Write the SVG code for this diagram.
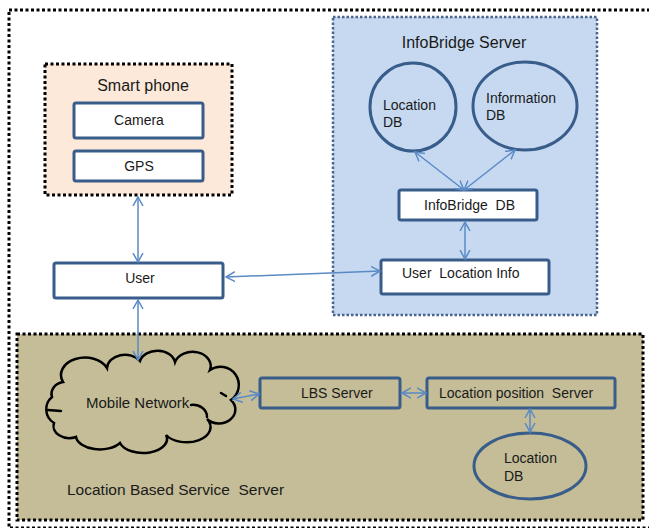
<svg xmlns="http://www.w3.org/2000/svg" width="649" height="528" viewBox="0 0 649 528" xml:space="preserve">
<style>
.dot{fill:none;stroke:#000;stroke-width:3;stroke-dasharray:3 2.5}
.box{fill:#fff;stroke:#385D8A;stroke-width:3}
.ell{fill:none;stroke:#385D8A;stroke-width:3}
.t{font-family:"Liberation Sans",Arial,sans-serif;font-size:14px;fill:#1a1a1a;white-space:pre}
.ttl{font-family:"Liberation Sans",Arial,sans-serif;font-size:16px;fill:#1a1a1a;white-space:pre}
.c line{stroke:#5A8AC6;stroke-width:1.5;fill:none;marker-start:url(#ah);marker-end:url(#ah)}
.cl{fill:none;stroke:#000;stroke-width:2.5;stroke-linecap:round}
</style>
<defs>
<marker id="ah" markerUnits="userSpaceOnUse" markerWidth="12" markerHeight="12" refX="9" refY="5" orient="auto-start-reverse" viewBox="0 0 12 10">
<path d="M0,0 L9,5 L0,10" fill="none" stroke="#5A8AC6" stroke-width="1.5"/>
</marker>
</defs>
<rect width="649" height="528" fill="#fff"/>
<g id="outer-frame"><rect class="dot" x="9" y="10" width="645" height="518"/></g>
<g id="lbs-server-group">
<rect x="17" y="334" width="626" height="186" class="dot" style="fill:#C4BD97"/>
<text class="ttl" x="67" y="495" style="font-size:15.5px">Location Based Service  Server</text>
</g>
<g id="infobridge-server">
<rect x="333" y="17" width="264" height="298" style="fill:#C6D9F1;stroke:#4A6690;stroke-width:2.5;stroke-dasharray:2.5 2"/>
<text class="ttl" x="464" y="48" text-anchor="middle">InfoBridge Server</text>
</g>
<g id="smart-phone">
<rect x="45" y="64" width="187" height="131" style="fill:#FDE9D9" class="dot"/>
<text class="ttl" x="143" y="91" text-anchor="middle">Smart phone</text>
</g>
<g id="camera"><rect class="box" x="74" y="103" width="129" height="35" rx="2"/><text class="t" x="139" y="125" text-anchor="middle">Camera</text></g>
<g id="gps"><rect class="box" x="74" y="151" width="129" height="30" rx="2"/><text class="t" x="139" y="171" text-anchor="middle">GPS</text></g>
<g id="user"><rect class="box" x="54" y="263" width="169" height="35" rx="2"/><text class="t" x="140" y="283" text-anchor="middle">User</text></g>
<g id="location-db-1"><ellipse class="ell" cx="413" cy="107" rx="43" ry="44"/><text class="t" x="383" y="110">Location</text><text class="t" x="383" y="127">DB</text></g>
<g id="information-db"><ellipse class="ell" cx="525" cy="106" rx="52" ry="44"/><text class="t" x="486" y="103">Information</text><text class="t" x="486" y="120">DB</text></g>
<g id="infobridge-db"><rect class="box" x="399" y="190" width="138" height="30" rx="2"/><text class="t" x="424" y="210">InfoBridge  DB</text></g>
<g id="user-location-info"><rect class="box" x="381" y="260" width="168" height="34" rx="2"/><text class="t" x="402" y="278">User  Location Info</text></g>
<g id="mobile-network">
<path d="M63 382 A22 16 0 0 1 107 368 A18 14 0 0 1 140 361 A18 14 0 0 1 175 362 A18 14 0 0 1 210 370 A14 14 0 0 1 231 400 A14 12 0 0 1 207 419 A22 14 0 0 1 166 435 A24 14 0 0 1 120 443 A24 14 0 0 1 76 437 A16 12 0 0 1 54 423 A16 16 0 0 1 52 397 A14 12 0 0 1 63 382 Z" fill="#C4BD97" stroke="#000" stroke-width="2.5"/>
<path class="cl" d="M191 405 A14 12 0 0 1 207 417"/>
<path class="cl" d="M48 410 L61 411"/>
<path class="cl" d="M221 393 L226 396"/>
<text class="t" x="86" y="408" style="font-size:15px">Mobile Network</text>
</g>
<g id="lbs-server"><rect class="box" x="260" y="378" width="140" height="30" rx="2" style="fill:#C4BD97"/><text class="t" x="301" y="398">LBS Server</text></g>
<g id="location-position-server"><rect class="box" x="427" y="378" width="188" height="30" rx="2" style="fill:#C4BD97"/><text class="t" x="439" y="398">Location position  Server</text></g>
<g id="location-db-2"><ellipse class="ell" cx="530" cy="466" rx="56" ry="33"/><text class="t" x="504" y="463">Location</text><text class="t" x="504" y="481">DB</text></g>
<g id="connectors" class="c">
<line x1="138" y1="197" x2="138" y2="262"/>
<line x1="138" y1="300" x2="138" y2="360"/>
<line x1="226" y1="277" x2="380" y2="271"/>
<line x1="415" y1="152" x2="464" y2="190"/>
<line x1="515" y1="150" x2="464" y2="190"/>
<line x1="465" y1="222" x2="465" y2="259"/>
<line x1="233" y1="399" x2="259" y2="394"/>
<line x1="402" y1="393" x2="426" y2="393"/>
<line x1="530" y1="409" x2="530" y2="432"/>
</g>
</svg>
